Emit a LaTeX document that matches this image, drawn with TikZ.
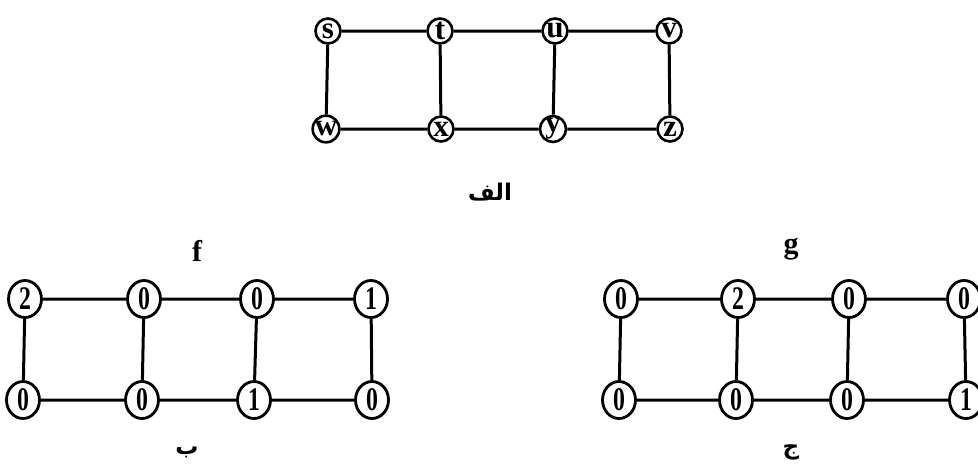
\documentclass[tikz,border=0pt]{standalone}
\usepackage{fontspec}
\setmainfont{Liberation Serif}
\newfontfamily\arabicfont[Script=Arabic]{DejaVu Sans}
\TeXXeTstate=1
\usetikzlibrary{shapes.geometric}
\tikzset{
  lettnode/.style={circle,draw,line width=2.6pt,minimum size=25pt,inner sep=0pt,
    font=\fontsize{31}{31}\selectfont\bfseries},
  numnode/.style={ellipse,draw,line width=2.8pt,minimum width=33pt,minimum height=37pt,inner sep=0pt,
    font=\fontsize{33}{33}\selectfont\bfseries},
  edge/.style={line width=3pt},
  ttl/.style={font=\fontsize{30}{30}\selectfont\bfseries},
  arlbl/.style={font=\arabicfont\bfseries\fontsize{23}{23}\selectfont}
}
\newcommand{\dg}[1]{\scalebox{0.72}[1]{#1}}
\begin{document}
\begin{tikzpicture}[x=1pt,y=-1pt]
\useasboundingbox (0,0) rectangle (978,472);
% top graph
\node[lettnode] (s) at (328,31) {s};
\node[lettnode] (t) at (440,31) {t};
\node[lettnode] (u) at (555,31) {u};
\node[lettnode] (v) at (669,31) {v};
\node[lettnode] (w) at (326,129) {w};
\node[lettnode] (x) at (441,129) {x};
\node[lettnode] (y) at (553,129) {y};
\node[lettnode] (z) at (670,129) {z};
\draw[edge] (s)--(t) (t)--(u) (u)--(v) (w)--(x) (x)--(y) (y)--(z)
  (s)--(w) (t)--(x) (u)--(y) (v)--(z);
\node[arlbl] (la) at (490,192) {\beginR الف\endR};
% f graph
\node[ttl] (ft) at (197,251) {f};
\node[numnode] (f1) at (25,299) {\dg{2}};
\node[numnode] (f2) at (144,299) {\dg{0}};
\node[numnode] (f3) at (257,299) {\dg{0}};
\node[numnode] (f4) at (371,299) {\dg{1}};
\node[numnode] (f5) at (23,400) {\dg{0}};
\node[numnode] (f6) at (142,400) {\dg{0}};
\node[numnode] (f7) at (254,400) {\dg{1}};
\node[numnode] (f8) at (372,400) {\dg{0}};
\draw[edge] (f1)--(f2) (f2)--(f3) (f3)--(f4) (f5)--(f6) (f6)--(f7) (f7)--(f8)
  (f1)--(f5) (f2)--(f6) (f3)--(f7) (f4)--(f8);
\node[arlbl] (lb) at (187,452) {\beginR ب\endR};
% g graph
\node[ttl] (gt) at (791,249) {g};
\node[numnode] (g1) at (621,299) {\dg{0}};
\node[numnode] (g2) at (738,299) {\dg{2}};
\node[numnode] (g3) at (849,299) {\dg{0}};
\node[numnode] (g4) at (964,299) {\dg{0}};
\node[numnode] (g5) at (619,400) {\dg{0}};
\node[numnode] (g6) at (736,400) {\dg{0}};
\node[numnode] (g7) at (847,400) {\dg{0}};
\node[numnode] (g8) at (966,400) {\dg{1}};
\draw[edge] (g1)--(g2) (g2)--(g3) (g3)--(g4) (g5)--(g6) (g6)--(g7) (g7)--(g8)
  (g1)--(g5) (g2)--(g6) (g3)--(g7) (g4)--(g8);
\node[arlbl] (lc) at (791,452) {\beginR ج\endR};
\end{tikzpicture}
\end{document}
